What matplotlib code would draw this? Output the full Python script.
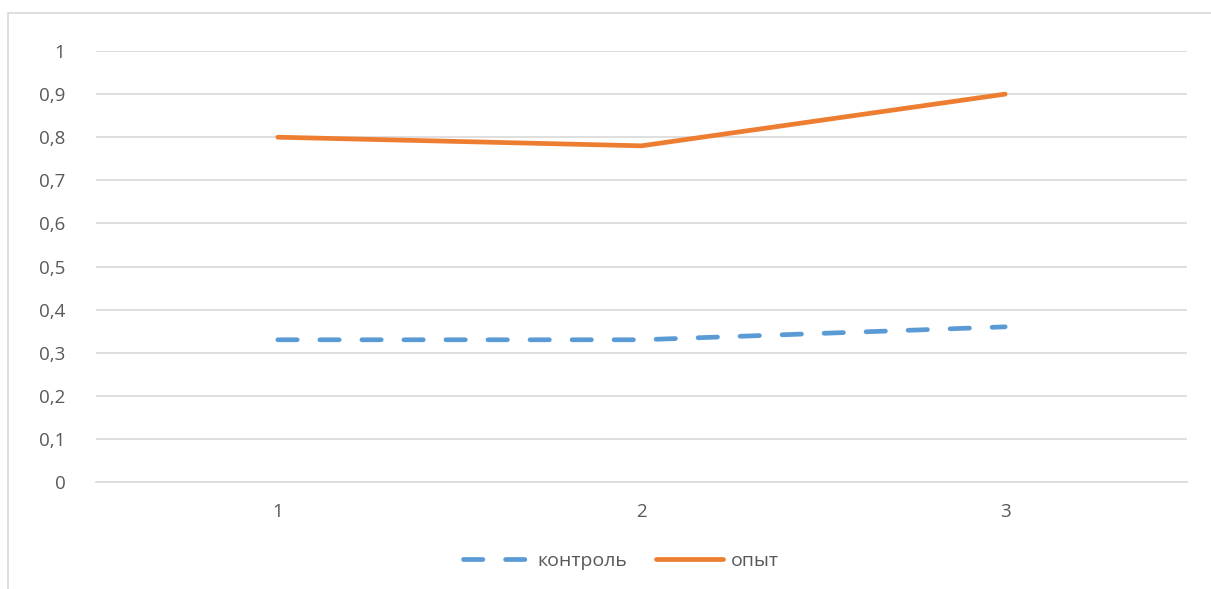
import matplotlib
matplotlib.use("Agg")
import matplotlib.pyplot as plt
from matplotlib.patches import Rectangle
from matplotlib.ticker import FuncFormatter

categories = [1, 2, 3]
control = [0.33, 0.33, 0.36]
experiment = [0.80, 0.78, 0.90]
series_names = ["контроль", "опыт"]
y_ticks = [0, 0.1, 0.2, 0.3, 0.4, 0.5, 0.6, 0.7, 0.8, 0.9, 1.0]

W, H = 1211, 589
plt.rcParams["font.family"] = ["Open Sans", "DejaVu Sans"]
text_color = "#595959"
grid_color = "#D9D9D9"

fig = plt.figure(figsize=(W / 100, H / 100), dpi=100)
fig.patch.set_facecolor("white")

# chart frame (extends past the right and bottom edges)
fig.patches.append(Rectangle((8 / W, -0.1), 1.2, (H - 13) / H + 0.1,
                             transform=fig.transFigure, fill=False,
                             edgecolor=grid_color, linewidth=1.2))

left, right = 96 / W, 1187 / W
bottom, top = (H - 482) / H, (H - 51) / H
ax = fig.add_axes([left, bottom, right - left, top - bottom])

x = list(range(len(categories)))
ax.plot(x, control, color="#5B9BD5", linewidth=3.4, linestyle=(0, (4.1, 4.8)),
        dash_capstyle="round", solid_capstyle="round", label=series_names[0])
ax.plot(x, experiment, color="#ED7D31", linewidth=3.4,
        solid_capstyle="round", label=series_names[1])

ax.set_xlim(-0.5, len(categories) - 0.5)
ax.set_ylim(0, 1)
ax.set_yticks(y_ticks)
ax.yaxis.set_major_formatter(FuncFormatter(lambda v, p: f"{v:g}".replace(".", ",")))
ax.set_xticks(x)
ax.set_xticklabels([str(c) for c in categories])
ax.grid(axis="y", color=grid_color, linewidth=1.2)
ax.set_axisbelow(True)
for s in ax.spines.values():
    s.set_visible(False)
ax.spines["bottom"].set_visible(True)
ax.spines["bottom"].set_color(grid_color)
ax.spines["bottom"].set_linewidth(1.2)
ax.tick_params(axis="both", length=0, labelsize=13.5, colors=text_color)
ax.tick_params(axis="y", pad=22)
ax.tick_params(axis="x", pad=15)

leg = fig.legend(loc="center", bbox_to_anchor=(621 / W, (H - 561) / H), ncol=2,
                 frameon=False, fontsize=14, handlelength=3.4, handletextpad=0.45,
                 columnspacing=1.5)
for t in leg.get_texts():
    t.set_color(text_color)

fig.savefig("out.png", dpi=100, facecolor="white")
